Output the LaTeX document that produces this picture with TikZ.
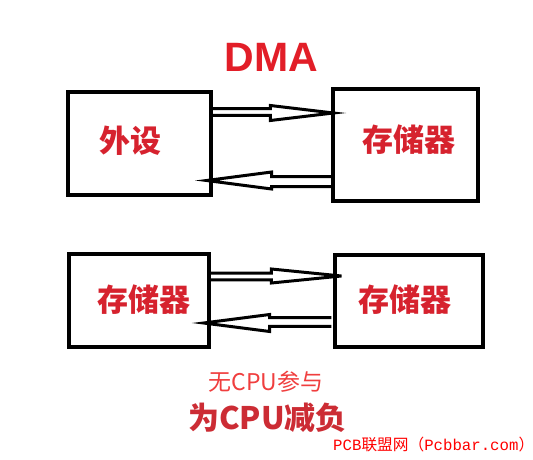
\documentclass[tikz,border=0pt]{standalone}
\usepackage{fontspec}
\setmainfont{Liberation Sans}
\newfontfamily\cjk{Noto Sans CJK SC}
\newfontfamily\monof{Liberation Mono}
\usetikzlibrary{calc}
\definecolor{dmared}{RGB}{226,30,40}
\definecolor{boxred}{RGB}{214,34,46}
\definecolor{lightred}{RGB}{240,62,62}
\definecolor{darkred}{RGB}{204,44,52}
\definecolor{wmred}{RGB}{255,0,0}
\newcommand\hollowarrow[5]{%
  \draw[arrline] let \p1=(#1), \p2=(#2) in
    (\x1,\y1+#3) -- (\x2+#4,\y1+#3) -- (\x2+#4,\y2+#5) -- (\p2)
    -- (\x2+#4,\y2-#5) -- (\x2+#4,\y1-#3) -- (\x1,\y1-#3);}
\begin{document}
\begin{tikzpicture}[x=1pt,y=-1pt,
  box/.style={draw=black, line width=3.3pt, inner sep=0pt},
  boxlabel/.style={text=boxred, font=\cjk\bfseries\fontsize{31}{31}\selectfont, inner sep=0pt},
  arrline/.style={draw=black, line width=3pt, line join=miter}]
\useasboundingbox (0,0) rectangle (533,460);
\fill[white] (0,0) rectangle (533,460);

\node[text=dmared, font=\bfseries\fontsize{41}{41}\selectfont, inner sep=0pt] (dma) at (271.5,57) {DMA};

\node[box, minimum width=143pt, minimum height=103pt] (tl) at (139.5,143.5) {};
\node[box, minimum width=145pt, minimum height=112pt] (tr) at (405.5,145) {};
\node[box, minimum width=140pt, minimum height=93pt] (bl) at (139,300.5) {};
\node[box, minimum width=148pt, minimum height=92pt] (br) at (409,301) {};

\node[boxlabel] (ltl) at (130,141) {外设};
\node[boxlabel] (ltr) at (409,140) {存储器};
\node[boxlabel] (lbl) at (144,300) {存储器};
\node[boxlabel] (lbr) at (405,300) {存储器};

\coordinate (a1s) at ($(tl.east)+(0,-31.5)$);
\coordinate (a1t) at ($(tr.west)+(2,-32)$);
\coordinate (a2s) at ($(tr.west)+(0,36.5)$);
\coordinate (a2t) at ($(tl.east)+(-6,37)$);
\coordinate (a3s) at ($(bl.east)+(0,-24)$);
\coordinate (a3t) at ($(br.west)+(8,-25)$);
\coordinate (a4s) at ($(br.west)+(-2,21)$);
\coordinate (a4t) at ($(bl.east)+(-7,22.5)$);

\hollowarrow{a1s}{a1t}{3.4pt}{-63pt}{7.5pt}
\hollowarrow{a2s}{a2t}{5pt}{65pt}{8.5pt}
\hollowarrow{a3s}{a3t}{3.3pt}{-70pt}{7pt}
\hollowarrow{a4s}{a4t}{4.3pt}{66pt}{8.5pt}

\node[text=lightred, font=\cjk\fontsize{23}{23}\selectfont, inner sep=0pt] (t1) at (266,382) {无CPU参与};
\node[text=darkred, font=\cjk\bfseries\fontsize{31}{31}\selectfont, inner sep=0pt] (t2) at (267.5,418) {为CPU减负};
\node[text=wmred, inner sep=0pt, anchor=east] (wm) at (525,445)
  {\monof\fontsize{15.7}{16}\selectfont PCB{\cjk 联盟网（}Pcbbar.com\makebox[0.4em][l]{\cjk ）}};
\end{tikzpicture}
\end{document}
